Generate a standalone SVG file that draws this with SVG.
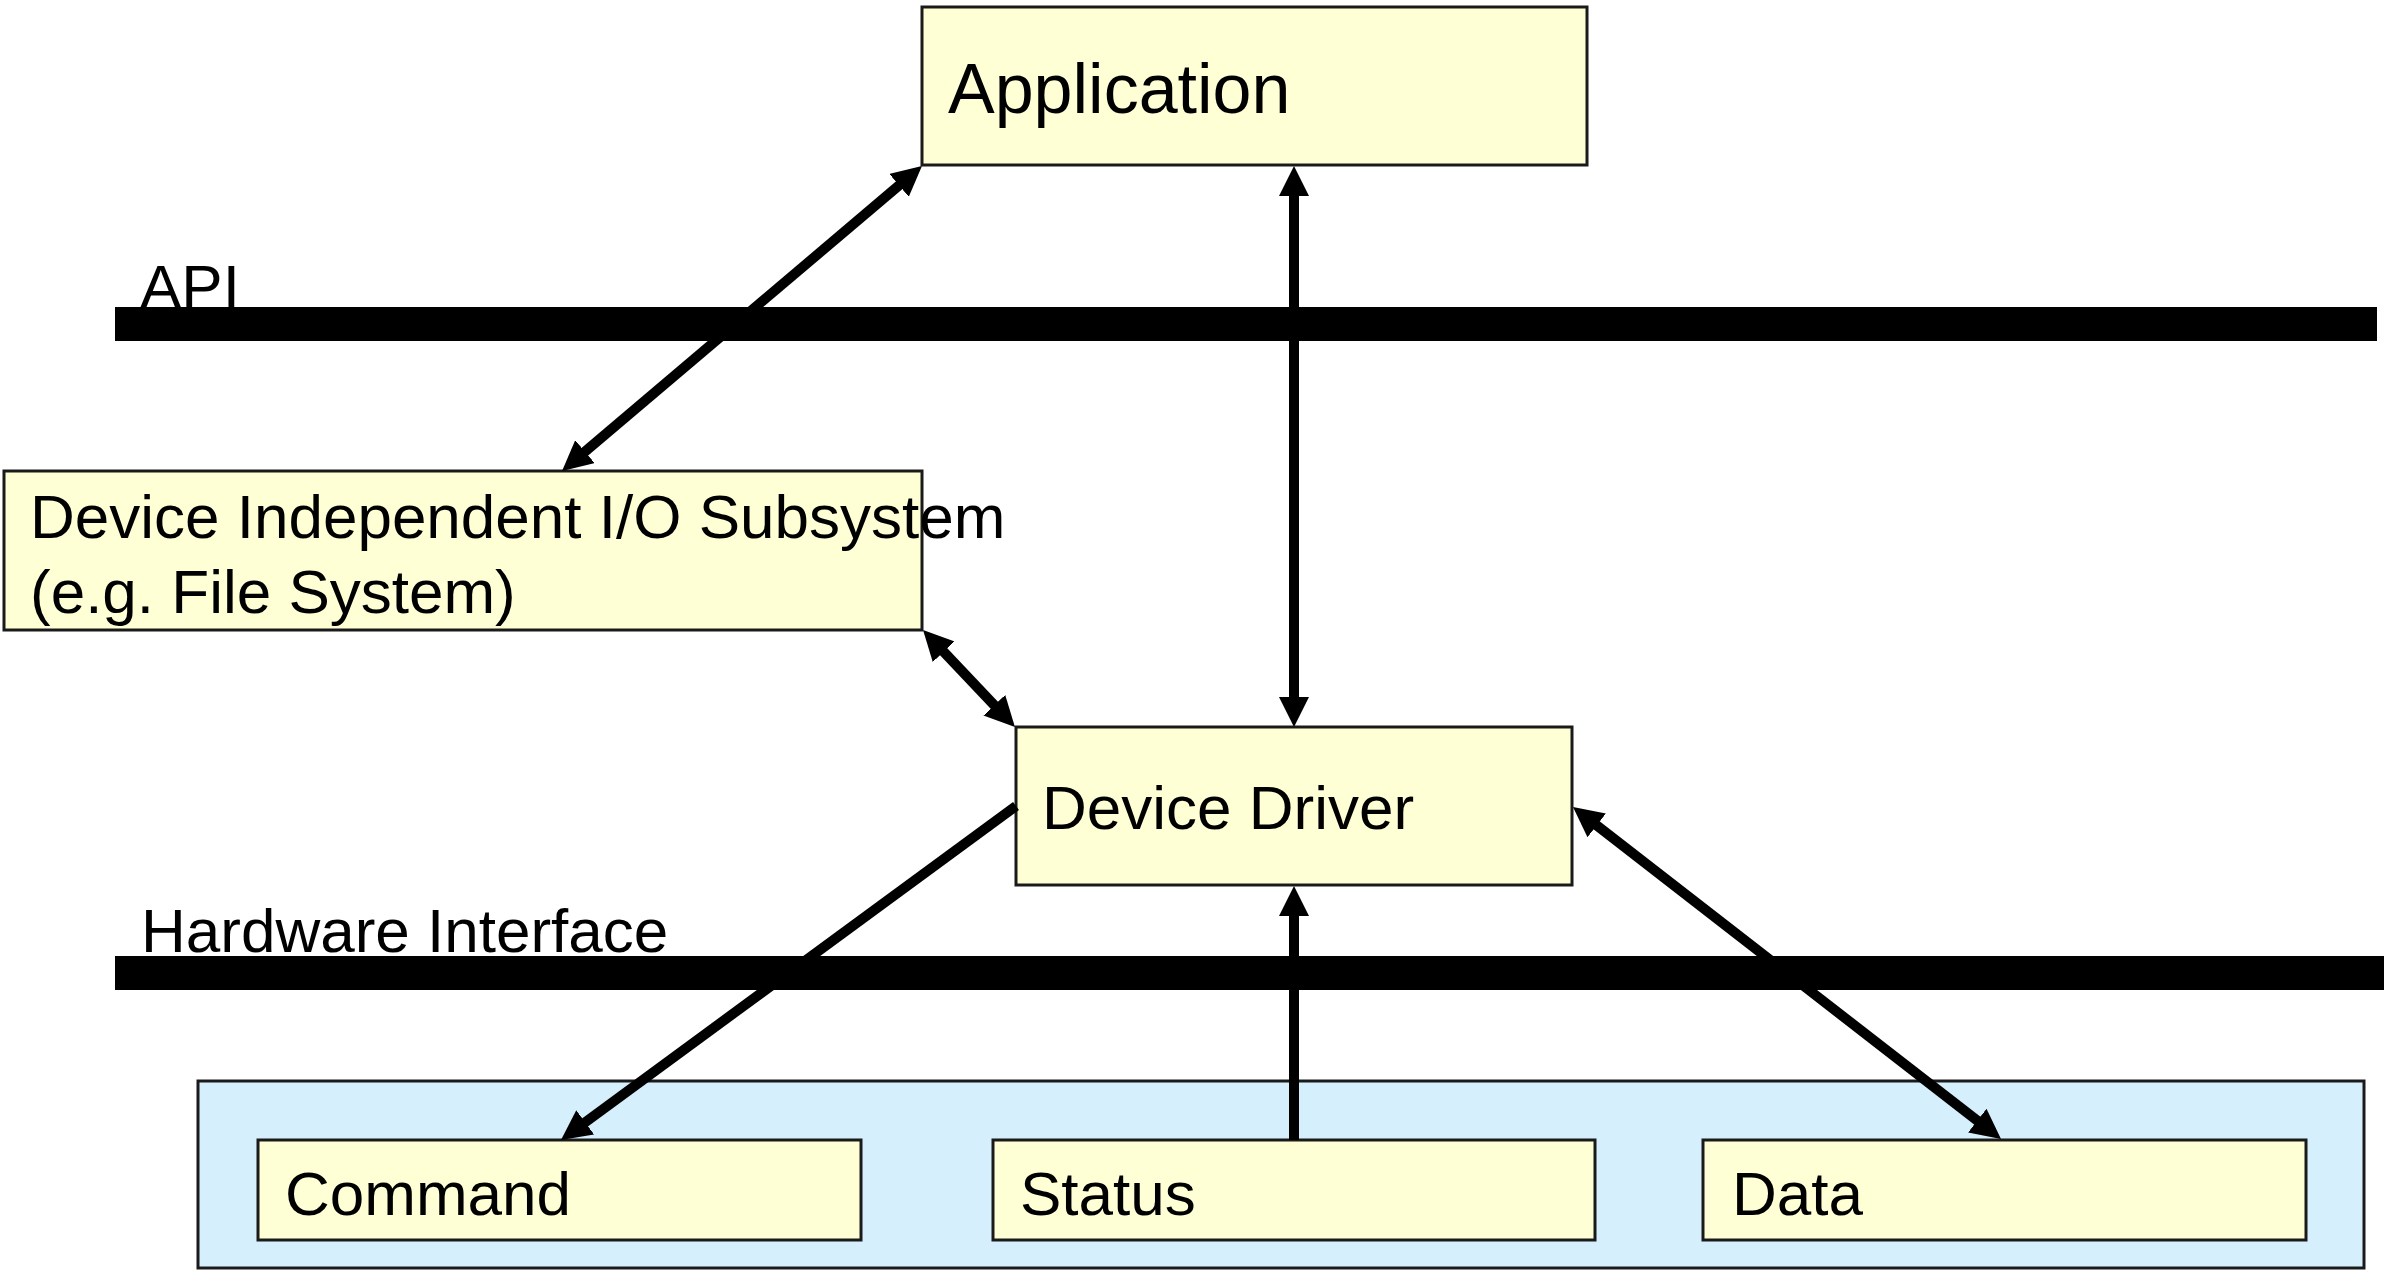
<svg xmlns="http://www.w3.org/2000/svg" width="2389" height="1271" viewBox="0 0 2389 1271">
<style>
.box{fill:#FFFFD5;stroke:#1a1a1a;stroke-width:3}
.cont{fill:#D5EFFC;stroke:#1a1a1a;stroke-width:3}
.bar{fill:#000}
.t{font-family:"Liberation Sans",Arial,sans-serif;font-size:62px;fill:#000}
.conn{stroke:#000;stroke-width:10;fill:none}
</style>
<defs>
<marker id="ah" viewBox="0 0 30 30" markerWidth="30" markerHeight="30" markerUnits="userSpaceOnUse" refX="10" refY="15" orient="auto-start-reverse">
<path d="M0,0 L30,15 L0,30 z" fill="#000"/>
</marker>
</defs>
<rect width="2389" height="1271" fill="#fff"/>
<g id="api-layer">
<text class="t" x="140" y="308">API</text>
<rect class="bar" x="115" y="307" width="2262" height="34"/>
</g>
<g id="hw-layer">
<text class="t" x="141" y="952">Hardware Interface</text>
<rect class="bar" x="115" y="956" width="2269" height="34"/>
</g>
<g id="controller">
<rect class="cont" x="198" y="1081" width="2166" height="187"/>
</g>
<g id="application">
<rect class="box" x="922" y="7" width="665" height="158"/>
<text class="t" x="948" y="113" style="font-size:70px">Application</text>
</g>
<g id="device-independent">
<rect class="box" x="4" y="471" width="918" height="159"/>
<text class="t" x="30" y="538">Device Independent I/O Subsystem</text>
<text class="t" x="30" y="613">(e.g. File System)</text>
</g>
<g id="device-driver">
<rect class="box" x="1016" y="727" width="556" height="158"/>
<text class="t" x="1042" y="829">Device Driver</text>
</g>
<g id="command">
<rect class="box" x="258" y="1140" width="603" height="100"/>
<text class="t" x="285" y="1215">Command</text>
</g>
<g id="status">
<rect class="box" x="993" y="1140" width="602" height="100"/>
<text class="t" x="1020" y="1215">Status</text>
</g>
<g id="data">
<rect class="box" x="1703" y="1140" width="603" height="100"/>
<text class="t" x="1732" y="1215">Data</text>
</g>
<g id="connectors">
<line class="conn" x1="577.3" y1="458.1" x2="906.7" y2="178.9" marker-start="url(#ah)" marker-end="url(#ah)"/>
<line class="conn" x1="1294" y1="707" x2="1294" y2="186" marker-start="url(#ah)" marker-end="url(#ah)"/>
<line class="conn" x1="936.8" y1="644.5" x2="1001.2" y2="712.5" marker-start="url(#ah)" marker-end="url(#ah)"/>
<line class="conn" x1="1016" y1="806" x2="577.1" y2="1128.2" marker-end="url(#ah)"/>
<line class="conn" x1="1294" y1="1140" x2="1294" y2="906" marker-end="url(#ah)"/>
<line class="conn" x1="1588.8" y1="819.3" x2="1985.2" y2="1126.7" marker-start="url(#ah)" marker-end="url(#ah)"/>
</g>
</svg>
